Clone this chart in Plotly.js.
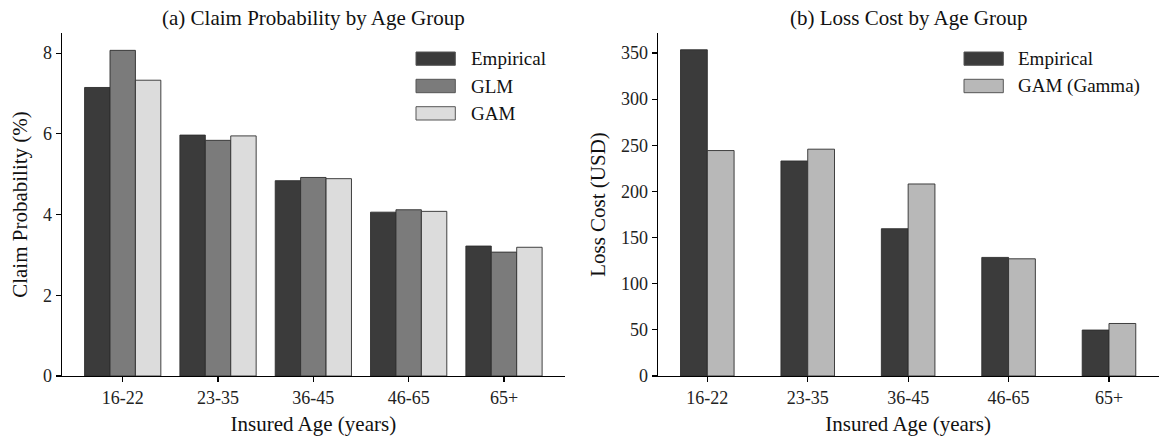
<!DOCTYPE html>
<html>
<head>
<meta charset="utf-8">
<script src="https://cdn.plot.ly/plotly-3.0.1.min.js"></script>
<style>html,body{margin:0;padding:0;background:#fff;}#chart{width:1159px;height:439px;}</style>
</head>
<body>
<div id="chart"></div>
<script>
// ---- data ----
const ageGroups = ["16-22", "23-35", "36-45", "46-65", "65+"];
const claimEmpirical = [7.15, 5.97, 4.84, 4.06, 3.22];
const claimGLM = [8.07, 5.84, 4.92, 4.12, 3.07];
const claimGAM = [7.33, 5.95, 4.89, 4.08, 3.19];
const lossEmpirical = [353.5, 233.0, 159.6, 128.5, 49.8];
const lossGAMGamma = [244.3, 245.8, 208.1, 127.0, 56.9];
const claimSeriesNames = ["Empirical", "GLM", "GAM"];
const lossSeriesNames = ["Empirical", "GAM (Gamma)"];
const panelTitles = ["(a) Claim Probability by Age Group", "(b) Loss Cost by Age Group"];
const xTitle = "Insured Age (years)";
const yTitles = ["Claim Probability (%)", "Loss Cost (USD)"];

// ---- style ----
const FONT = "Liberation Serif, Times New Roman, serif";
const W = 1159, H = 439, MT = 33, MB = 63;
const plotH = H - MT - MB;
const colorsA = ["#3b3b3b", "#7b7b7b", "#dcdcdc"];
const colorsB = ["#3b3b3b", "#b8b8b8"];
const edge = {color: "#2e2e2e", width: 0.9};
const bw = 0.8 / 3;

const claimSeries = [claimEmpirical, claimGLM, claimGAM];
const lossSeries = [lossEmpirical, lossGAMGamma];

const traces = [];
claimSeries.forEach((vals, i) => {
  traces.push({
    type: "bar", x: ageGroups, y: vals, name: claimSeriesNames[i],
    xaxis: "x", yaxis: "y", width: bw, offset: -0.4 + i * bw,
    marker: {color: colorsA[i], line: edge}, showlegend: false,
    hoverinfo: "x+y+name"
  });
});
lossSeries.forEach((vals, i) => {
  traces.push({
    type: "bar", x: ageGroups, y: vals, name: lossSeriesNames[i],
    xaxis: "x2", yaxis: "y2", width: bw, offset: -bw + i * bw,
    marker: {color: colorsB[i], line: edge}, showlegend: false,
    hoverinfo: "x+y+name"
  });
});

const px = v => v / W;
const py = v => (H - MB - v) / plotH;

const shapes = [], annotations = [];
function legend(names, colors, x0, x1, tx) {
  const rows = [[52, 65.3], [79.3, 92.7], [106.7, 120]];
  names.forEach((n, i) => {
    const r = rows[i];
    shapes.push({type: "rect", xref: "paper", yref: "paper",
      x0: px(x0), x1: px(x1), y0: py(r[1]), y1: py(r[0]),
      fillcolor: colors[i], line: {color: "#555", width: 1}});
    annotations.push({xref: "paper", yref: "paper", x: px(tx), y: py((r[0] + r[1]) / 2),
      text: n, showarrow: false, xanchor: "left", yanchor: "middle",
      font: {family: FONT, size: 19, color: "#111"}});
  });
}
legend(claimSeriesNames, colorsA, 416, 455.3, 469);
legend(lossSeriesNames, colorsB, 964, 1003.3, 1016);

const axisCommon = {
  showline: true, linecolor: "#000", linewidth: 1.2, mirror: false,
  ticks: "outside", ticklen: 5, tickwidth: 1.2, tickcolor: "#000",
  showgrid: false, zeroline: false,
  tickfont: {family: FONT, size: 18, color: "#222"}
};

const layout = {
  width: W, height: H,
  margin: {l: 0, r: 0, t: MT, b: MB, pad: 0},
  paper_bgcolor: "#fff", plot_bgcolor: "#fff",
  font: {family: FONT, color: "#111"},
  showlegend: false,
  xaxis: Object.assign({}, axisCommon, {
    domain: [px(61.7), px(565)], type: "category", range: [-0.64, 4.64],
    title: {text: xTitle, font: {family: FONT, size: 21, color: "#111"}, standoff: 9}
  }),
  yaxis: Object.assign({}, axisCommon, {
    domain: [0, 1], range: [0, 8.5], tickvals: [0, 2, 4, 6, 8],
    title: {text: yTitles[0], font: {family: FONT, size: 21, color: "#111"}, standoff: 9}
  }),
  xaxis2: Object.assign({}, axisCommon, {
    domain: [px(657.8), px(1158.5)], type: "category", range: [-0.493, 4.493], anchor: "y2",
    title: {text: xTitle, font: {family: FONT, size: 21, color: "#111"}, standoff: 9}
  }),
  yaxis2: Object.assign({}, axisCommon, {
    domain: [0, 1], range: [0, 371.7], anchor: "x2", tickvals: [0, 50, 100, 150, 200, 250, 300, 350],
    title: {text: yTitles[1], font: {family: FONT, size: 21, color: "#111"}, standoff: 9}
  }),
  shapes: shapes,
  annotations: annotations.concat([
    {xref: "paper", yref: "paper", x: (px(61.7) + px(565)) / 2, y: py(18), text: panelTitles[0],
     showarrow: false, xanchor: "center", yanchor: "middle", font: {family: FONT, size: 21, color: "#111"}},
    {xref: "paper", yref: "paper", x: (px(657.8) + px(1158.5)) / 2, y: py(18), text: panelTitles[1],
     showarrow: false, xanchor: "center", yanchor: "middle", font: {family: FONT, size: 21, color: "#111"}}
  ]),
  bargap: 0
};

Plotly.newPlot("chart", traces, layout, {displayModeBar: false, staticPlot: true});
</script>
</body>
</html>
